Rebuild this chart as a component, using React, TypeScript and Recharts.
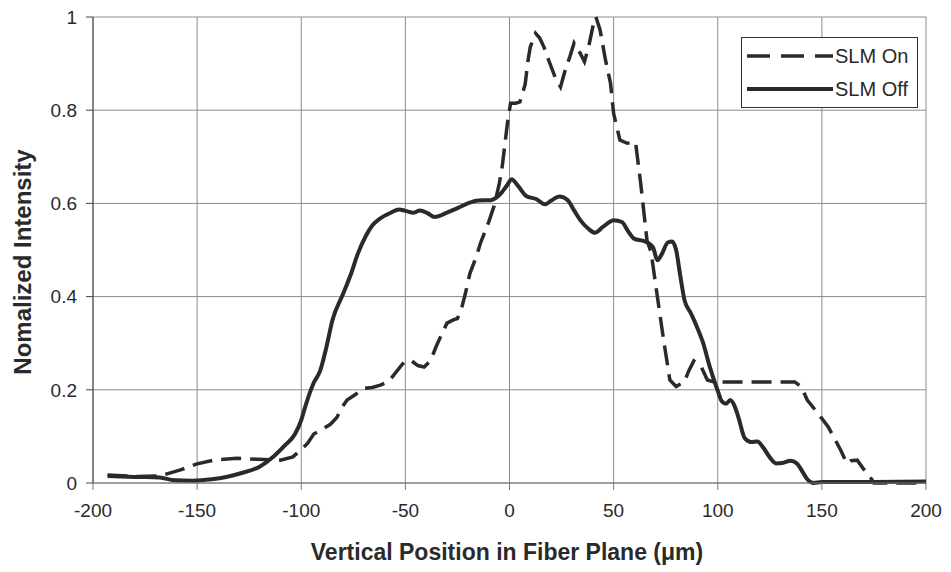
import React from "react";
import { LineChart, Line, XAxis, YAxis, CartesianGrid, Legend, Label } from "recharts";

// Beam profile across the fiber plane, with and without the SLM.
const xTicks = [-200, -150, -100, -50, 0, 50, 100, 150, 200];
const yTicks = [0, 0.2, 0.4, 0.6, 0.8, 1];

const slmOffX = [
  -193, -180, -168, -161, -152, -143, -136, -129, -120, -113, -108, -103, -100, -98, -94, -91, -88, -85,
  -80, -76, -73, -69, -66, -62, -57, -53, -50, -46, -43, -39, -36, -30, -25, -20, -15, -9, -4, -1, 1, 4,
  8, 13, 17, 20, 24, 28, 31, 34, 38, 41, 45, 50, 54, 57, 60, 64, 67, 69, 71, 73, 76, 78, 80, 82, 84, 87,
  90, 93, 96, 100, 102, 104, 106, 108, 110, 113, 116, 119, 122, 125, 128, 131, 135, 138, 141, 143, 146,
  150, 175, 200,
];
const slmOffY = [
  0.015, 0.013, 0.012, 0.006, 0.005, 0.008, 0.013, 0.021, 0.035, 0.058, 0.08, 0.105, 0.135, 0.165, 0.215,
  0.24, 0.29, 0.35, 0.405, 0.45, 0.49, 0.53, 0.552, 0.568, 0.58, 0.587, 0.584, 0.58, 0.585, 0.578, 0.571,
  0.58, 0.59, 0.6, 0.606, 0.607, 0.622, 0.64, 0.652, 0.638, 0.616, 0.609, 0.598, 0.606, 0.615, 0.607,
  0.585, 0.564, 0.545, 0.537, 0.55, 0.564, 0.56, 0.54, 0.524, 0.52, 0.514, 0.505, 0.478, 0.49, 0.516,
  0.518, 0.5, 0.445, 0.393, 0.365, 0.335, 0.3, 0.252, 0.198, 0.175, 0.17, 0.178, 0.166, 0.14, 0.096,
  0.088, 0.089, 0.075, 0.055, 0.042, 0.043, 0.048, 0.042, 0.022, 0.008, 0, 0.002, 0.002, 0.003,
];

const slmOnX = [
  -193, -180, -168, -158, -150, -142, -131, -121, -110, -104, -100, -97, -94, -90, -86, -83, -80, -78,
  -74, -70, -66, -62, -58, -55, -52, -50, -47, -44, -41, -38, -35, -32, -30, -27, -25, -23, -21, -19,
  -16, -14, -10, -7.5, -5, -3.5, -1, 0.5, 3, 5, 7.5, 9, 10, 12.5, 14.5, 16.5, 19, 22, 24.5, 27, 29, 31,
  34, 36, 38, 40, 41.5, 43.5, 46, 48.5, 50, 53, 56.5, 60.5, 63, 66, 68, 71, 74, 77, 80, 84, 86, 88.5,
  92, 95, 98, 137, 140, 143, 148, 153, 159, 162, 164, 167, 170, 172, 175, 200,
];
const slmOnY = [
  0.017, 0.014, 0.015, 0.028, 0.041, 0.049, 0.053, 0.051, 0.049, 0.056, 0.072, 0.085, 0.105, 0.115,
  0.126, 0.14, 0.165, 0.178, 0.19, 0.203, 0.205, 0.21, 0.218, 0.235, 0.252, 0.262, 0.262, 0.252, 0.249,
  0.262, 0.295, 0.325, 0.343, 0.35, 0.353, 0.375, 0.41, 0.45, 0.485, 0.514, 0.56, 0.593, 0.64, 0.679,
  0.772, 0.815, 0.815, 0.818, 0.855, 0.91, 0.936, 0.965, 0.955, 0.936, 0.905, 0.87, 0.85, 0.89, 0.915,
  0.944, 0.922, 0.904, 0.936, 0.979, 1.0, 0.972, 0.91, 0.858, 0.793, 0.736, 0.729, 0.732, 0.643, 0.521,
  0.495, 0.4, 0.307, 0.221, 0.207, 0.217, 0.24, 0.262, 0.25, 0.221, 0.217, 0.217, 0.207, 0.178, 0.15,
  0.121, 0.071, 0.042, 0.048, 0.049, 0.03, 0.021, 0, 0,
];

const slmOff = slmOffX.map((x, i) => ({ x, y: slmOffY[i] }));
const slmOn = slmOnX.map((x, i) => ({ x, y: slmOnY[i] }));

const FONT = "'Liberation Sans', Arial, Helvetica, sans-serif";
const INK = "#2a2a2a";
const DASH = "20 9";

const formatY = (v: number) => (v === 0 ? "0" : v === 1 ? "1" : v.toFixed(1));

function LegendBox() {
  const row = (dashed: boolean, text: string) => (
    <div style={{ display: "flex", alignItems: "center", height: 33 }}>
      <svg width={88} height={10} style={{ display: "block" }}>
        <line
          x1={0}
          y1={5}
          x2={86}
          y2={5}
          stroke={INK}
          strokeWidth={dashed ? 3.5 : 4}
          strokeDasharray={dashed ? "23 11" : undefined}
        />
      </svg>
      <span style={{ fontFamily: FONT, fontSize: 20, color: INK, lineHeight: "20px" }}>{text}</span>
    </div>
  );
  return (
    <div
      style={{
        width: 170,
        height: 68,
        border: "1px solid #333",
        background: "#fff",
        padding: "1px 0 0 5px",
        boxSizing: "content-box",
      }}
    >
      {row(true, "SLM On")}
      {row(false, "SLM Off")}
    </div>
  );
}

export default function App() {
  return (
    <div style={{ position: "absolute", left: 0, top: 0, background: "#fff" }}>
      <LineChart width={951} height={572} margin={{ top: 17, right: 25, bottom: 0, left: 0 }}>
        <CartesianGrid stroke="#8c8c8c" strokeWidth={1} />
        <XAxis
          type="number"
          dataKey="x"
          domain={[-200, 200]}
          ticks={xTicks}
          allowDataOverflow
          height={89}
          tickSize={7}
          tickMargin={14}
          stroke="#777"
          tick={{ fill: "#2a2a2a", fontSize: 19, fontFamily: FONT }}
        >
          <Label
            content={() => (
              <text
                x={507}
                y={560}
                textAnchor="middle"
                fontFamily={FONT}
                fontWeight="bold"
                fontSize={23}
                fill="#2a2a2a"
              >
                Vertical Position in Fiber Plane (μm)
              </text>
            )}
          />
        </XAxis>
        <YAxis
          type="number"
          domain={[0, 1]}
          ticks={yTicks}
          width={93}
          tickSize={7}
          tickMargin={9}
          stroke="#444"
          tickFormatter={formatY}
          tick={{ fill: "#2a2a2a", fontSize: 19, fontFamily: FONT }}
        >
          <Label
            content={() => (
              <text
                x={31}
                y={262}
                transform="rotate(-90 31 262)"
                textAnchor="middle"
                fontFamily={FONT}
                fontWeight="bold"
                fontSize={24}
                fill="#2a2a2a"
              >
                Nomalized Intensity
              </text>
            )}
          />
        </YAxis>
        <Legend
          verticalAlign="top"
          align="right"
          wrapperStyle={{
            position: "absolute",
            left: 741,
            top: 37,
            width: 0,
            height: 0,
            overflow: "visible",
          }}
          content={() => <LegendBox />}
        />
        <Line
          data={slmOn}
          dataKey="y"
          name="SLM On"
          type="linear"
          stroke={INK}
          strokeWidth={3.5}
          strokeDasharray={DASH}
          dot={false}
          activeDot={false}
          isAnimationActive={false}
        />
        <Line
          data={slmOff}
          dataKey="y"
          name="SLM Off"
          type="monotone"
          stroke={INK}
          strokeWidth={4}
          dot={false}
          activeDot={false}
          isAnimationActive={false}
        />
      </LineChart>
    </div>
  );
}
